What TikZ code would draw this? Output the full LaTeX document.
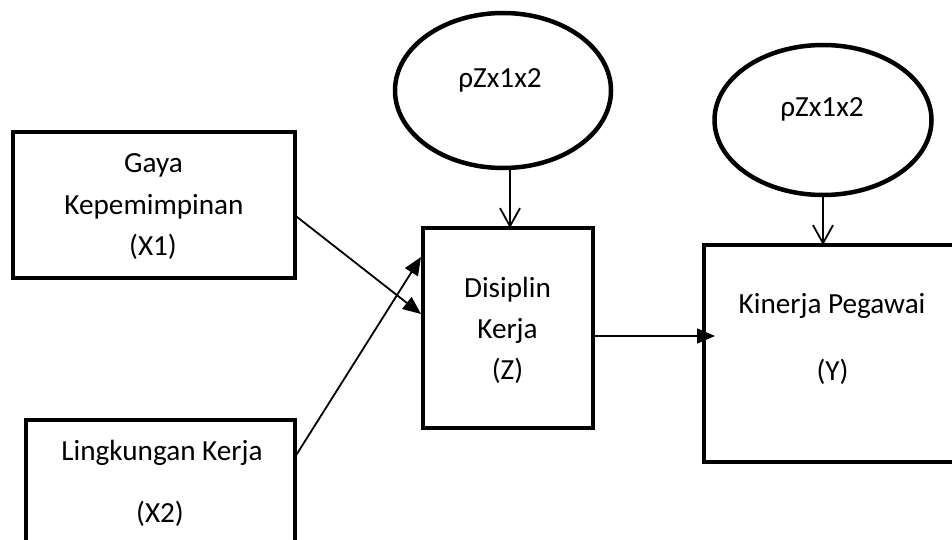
\documentclass[tikz,border=0pt]{standalone}
\usepackage{fontspec}
\setmainfont{Carlito}
\usetikzlibrary{arrows.meta,shapes.geometric}
\begin{document}
\begin{tikzpicture}[x=1pt,y=-1pt,
  every node/.style={font=\fontsize{29.2}{34}\selectfont},
  box/.style={draw,rectangle,line width=4pt,inner sep=0pt,outer sep=0pt},
  oval/.style={draw,ellipse,line width=4.5pt,inner sep=0pt,outer sep=0pt},
  lbl/.style={anchor=base,inner sep=0pt},
  link/.style={line width=1.8pt,-{Triangle[length=18pt,width=15pt]}},
  errlink/.style={line width=1.8pt,-{Straight Barb[length=18pt,width=20pt,line width=1.8pt]}}]
\useasboundingbox (0,0) rectangle (952,540);
\clip (0,0) rectangle (952,540);

% variable boxes
\node[box,minimum width=282pt,minimum height=145pt] (x1) at (153.5,205) {};
\node[box,minimum width=269pt,minimum height=140pt] (x2) at (160.5,490) {};
\node[box,minimum width=170pt,minimum height=200pt] (z)  at (508,328) {};
\node[box,minimum width=256pt,minimum height=217pt] (y)  at (832,353.5) {};

% residual ovals
\node[oval,minimum width=216pt,minimum height=155pt] (e1) at (503,90.5) {};
\node[oval,minimum width=217pt,minimum height=150pt] (e2) at (823,120) {};

% labels
\node[lbl] (x1a) at (153.5,172) {Gaya};
\node[lbl] (x1b) at (154,214) {Kepemimpinan};
\node[lbl] (x1c) at (153,255) {(X1)};
\node[lbl] (x2a) at (162,460) {Lingkungan Kerja};
\node[lbl] (x2b) at (160,522) {(X2)};
\node[lbl] (za) at (507.5,297) {Disiplin};
\node[lbl] (zb) at (507.5,338) {Kerja};
\node[lbl] (zc) at (507.5,379) {(Z)};
\node[lbl] (ya) at (832,313) {Kinerja Pegawai};
\node[lbl] (yb) at (832.5,380) {(Y)};
\node[lbl] (e1t) at (500,88) {ρZx1x2};
\node[lbl] (e2t) at (822,117) {ρZx1x2};

% paths
\draw[link] ([yshift=-10pt]x1.east) -- ([xshift=-2pt,yshift=14pt]z.west);
\draw[link] ([yshift=33pt]x2.east) -- ([xshift=-2pt,yshift=71pt]z.west);
\draw[link] ([yshift=-8pt]z.east) -- ([xshift=11pt,yshift=17.5pt]y.west);
\draw[errlink] ([xshift=7pt]e1.south) -- ([xshift=2pt]z.north);
\draw[errlink] (e2.south) -- (e2.south |- y.north);
\end{tikzpicture}
\end{document}
